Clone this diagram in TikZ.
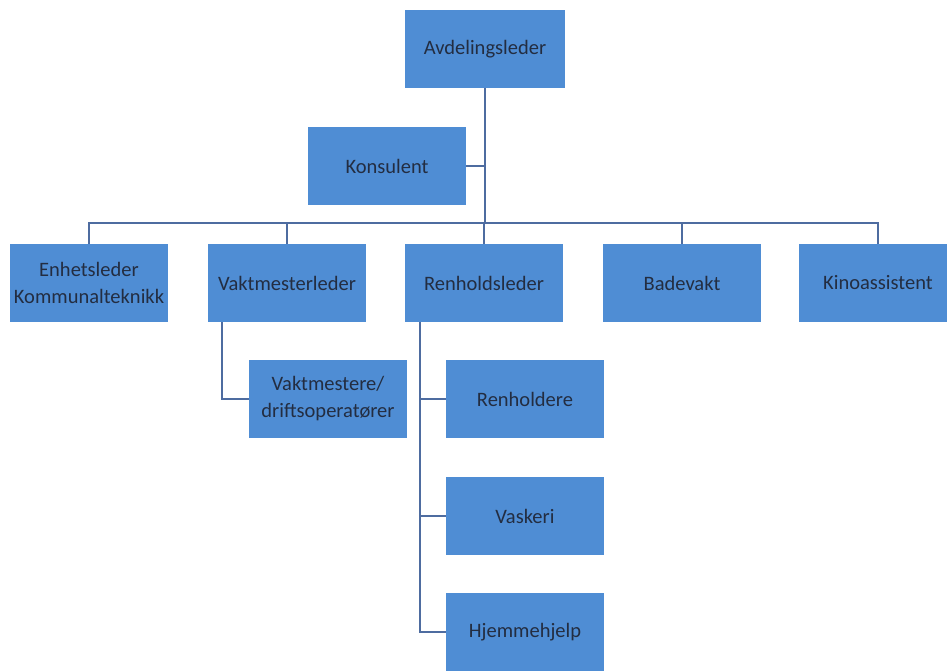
\documentclass[tikz,border=0pt]{standalone}
\usepackage{fontspec}
\setmainfont{Carlito}
\usepackage{tikz}
\usetikzlibrary{positioning}
\usepackage{xcolor}
\definecolor{orgblue}{RGB}{79,141,212}
\definecolor{orgline}{RGB}{78,108,160}
\definecolor{orgtext}{RGB}{35,45,65}
\tikzstyle{orgbox} = [rectangle, minimum width=158pt, minimum height=78pt, text centered, align=center, fill=orgblue, text=orgtext, font=\fontsize{20.5}{27}\selectfont, inner sep=0pt]
\tikzstyle{link} = [line width=1.6pt, color=orgline]

\begin{document}
\begin{tikzpicture}[x=1pt,y=-1pt]
\useasboundingbox (0,0) rectangle (947,671);
% Top
\node[orgbox, minimum width=160pt] (avd) at (485,49) {Avdelingsleder};
\node[orgbox] (kons) at (387,166) {Konsulent};

% Second level
\node[orgbox] (enh) at (89,283) {Enhetsleder\\Kommunalteknikk};
\node[orgbox] (vakt) at (287,283) {Vaktmesterleder};
\node[orgbox] (renh) at (484,283) {Renholdsleder};
\node[orgbox] (bade) at (682,283) {Badevakt};
\node[orgbox] (kino) at (878,283) {Kinoassistent};

% Third level
\node[orgbox] (vmst) at (328,399) {Vaktmestere/\\driftsoperatører};
\node[orgbox] (rhld) at (525,399) {Renholdere};
\node[orgbox] (vask) at (525,516) {Vaskeri};
\node[orgbox] (hjem) at (525,632) {Hjemmehjelp};

% Lines
\coordinate (bus) at (485,223);
\draw[link] (avd.south) -- (bus);
\draw[link] (kons.east) -- (kons.east -| avd.south);
\draw[link] (enh.north) |- (bus) -| (kino.north);
\foreach \n in {vakt,renh,bade}
  \draw[link] (\n.north) -- (\n.north |- bus);
\draw[link] ([xshift=-65pt]vakt.south) |- (vmst.west);
\draw[link] ([xshift=-64pt]renh.south) |- (hjem.west);
\foreach \n in {rhld,vask}
  \draw[link] (\n.west) -- ++(-25pt,0);
\end{tikzpicture}
\end{document}
